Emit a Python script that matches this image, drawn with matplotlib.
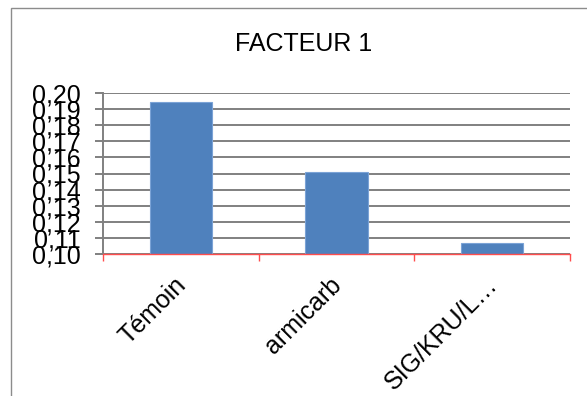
import matplotlib.pyplot as plt
from matplotlib.patches import Rectangle
from matplotlib.ticker import FuncFormatter, FixedLocator
from matplotlib.transforms import ScaledTranslation

plt.rcParams['font.family'] = ['Liberation Sans', 'DejaVu Sans']

categories = ['Témoin', 'armicarb', 'SIG/KRU/L…']
values = [0.1946, 0.1511, 0.1066]
yticks = [0.10, 0.11, 0.12, 0.13, 0.14, 0.15, 0.16, 0.17, 0.18, 0.19, 0.20]

fig = plt.figure(figsize=(5.87, 3.96), dpi=100)
ax = fig.add_axes([103 / 587, 1 - 254 / 396, 467 / 587, 161 / 396])

# outer chart frame, cut off on the right and bottom
fig.add_artist(Rectangle((11 / 587, -0.1), 2, 1 - 8 / 396 + 0.1, transform=fig.transFigure,
                         fill=False, edgecolor='#8c8c8c', lw=1.0))

x = range(len(categories))
ax.bar(x, values, width=0.4, color='#4f81bd', edgecolor='#7ba3d6', linewidth=0.8, zorder=3)

ax.set_xlim(-0.5, 2.5)
ax.set_ylim(0.10, 0.20)
ax.set_yticks(yticks)
ax.yaxis.set_major_formatter(FuncFormatter(lambda v, p: f'{v:.2f}'.replace('.', ',')))
ax.grid(axis='y', color='#808080', lw=1.4, zorder=1)
ax.tick_params(axis='y', colors='#808080', length=6, width=1.4, labelsize=18,
               labelcolor='black', pad=10)

ax.set_xticks(list(x))
ax.set_xticklabels(categories, rotation=45, ha='right', rotation_mode='anchor', fontsize=18)
ax.tick_params(axis='x', which='major', length=0, pad=10)
shift = ScaledTranslation(-7 / 100, -5 / 100, fig.dpi_scale_trans)
for lbl in ax.get_xticklabels():
    lbl.set_transform(lbl.get_transform() + shift)
ax.xaxis.set_minor_locator(FixedLocator([-0.5, 0.5, 1.5, 2.5]))
ax.tick_params(axis='x', which='minor', length=5, width=1, color='#ff4d4d')

for s in ['top', 'right']:
    ax.spines[s].set_visible(False)
ax.spines['left'].set_color('#808080')
ax.spines['left'].set_linewidth(1.4)
ax.spines['bottom'].set_color('#ff4d4d')
ax.spines['bottom'].set_linewidth(1.0)
ax.spines['bottom'].set_zorder(4)

fig.text(304 / 587, 1 - 44 / 396, 'FACTEUR 1', ha='center', va='center', fontsize=18)

fig.savefig('out.png', dpi=100)
